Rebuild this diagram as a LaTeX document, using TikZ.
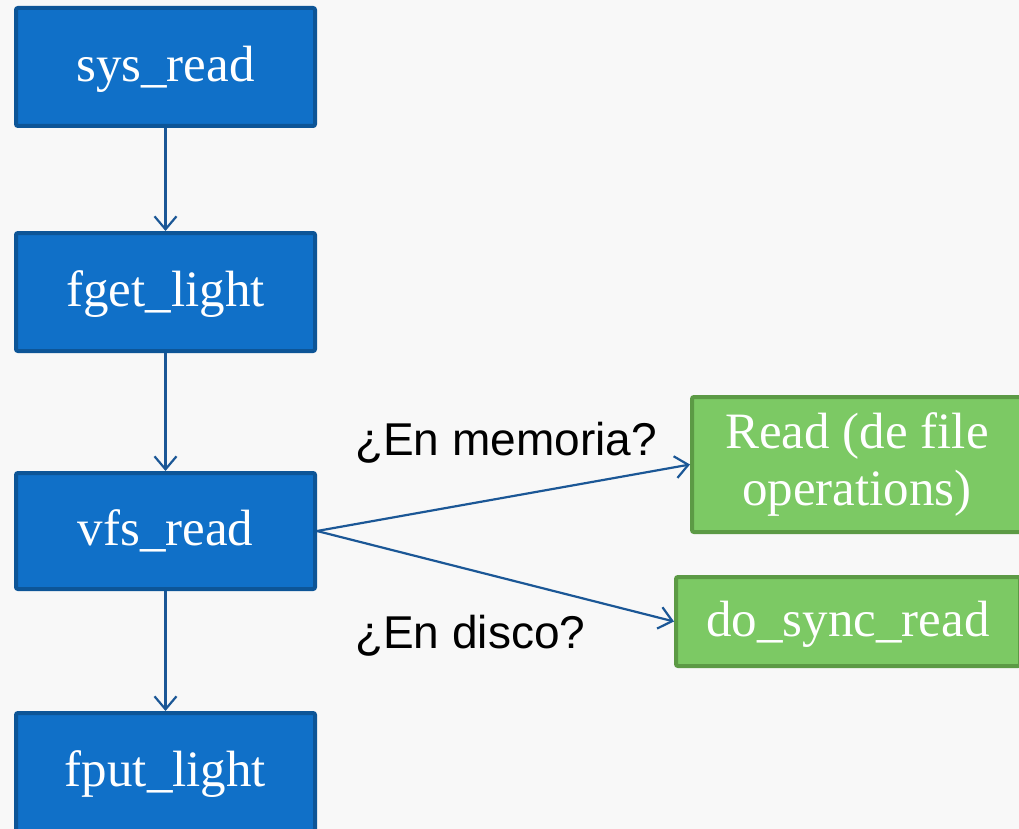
\documentclass[tikz,border=0pt]{standalone}
\usepackage{fontspec}
\setmainfont{Liberation Serif}
\newfontfamily\labelfont{Liberation Sans}
\usetikzlibrary{arrows.meta}
\definecolor{bgc}{HTML}{F8F8F8}
\definecolor{bluefill}{HTML}{1070C8}
\definecolor{blueline}{HTML}{0D5597}
\definecolor{greenfill}{HTML}{7CC964}
\definecolor{greenline}{HTML}{5C9A45}
\definecolor{arrowc}{HTML}{1B5796}
\tikzset{
  bluebox/.style={draw=blueline, fill=bluefill, line width=4pt, rounded corners=2pt,
    inner sep=0pt, minimum width=299pt, text=white, text depth=6pt,
    font=\fontsize{51}{58}\selectfont},
  greenbox/.style={draw=greenline, fill=greenfill, line width=4pt, rounded corners=2pt,
    inner sep=0pt, text=white, align=center,
    font=\fontsize{51}{57}\selectfont},
  flow/.style={draw=arrowc, line width=2.2pt, -{Straight Barb[length=13pt,width=22pt,line width=2.2pt]}},
  qlabel/.style={font=\labelfont\fontsize{46}{54}\selectfont, text=black, inner sep=0pt, anchor=base west}
}
\begin{document}
\begin{tikzpicture}[x=1pt,y=-1pt]
  \fill[bgc] (0,0) rectangle (1019,829);
  \useasboundingbox (0,0) rectangle (1019,829);
  \node[bluebox, minimum height=118pt] (sys) at (165.5,67) {sys\_read};
  \node[bluebox, minimum height=118pt] (fget) at (165.5,292) {fget\_light};
  \node[bluebox, minimum height=116pt] (vfs) at (165.5,531) {vfs\_read};
  \node[bluebox, minimum height=118pt] (fput) at (165.5,772) {fput\_light};
  \node[greenbox, minimum width=330pt, minimum height=135pt] (rd) at (857,464.5) {Read (de file\\operations)};
  \node[greenbox, minimum width=344pt, minimum height=89pt, text depth=6pt] (dsr) at (848,621.5) {do\_sync\_read};
  \draw[flow] (sys.south) -- (fget.north);
  \draw[flow] (fget.south) -- (vfs.north);
  \draw[flow] (vfs.south) -- (fput.north);
  \draw[flow] (vfs.east) -- (rd.west);
  \draw[flow] (vfs.east) -- (dsr.west);
  \node[qlabel] (q1) at (355,455) {¿En memoria?};
  \node[qlabel] (q2) at (355,648) {¿En disco?};
\end{tikzpicture}
\end{document}
